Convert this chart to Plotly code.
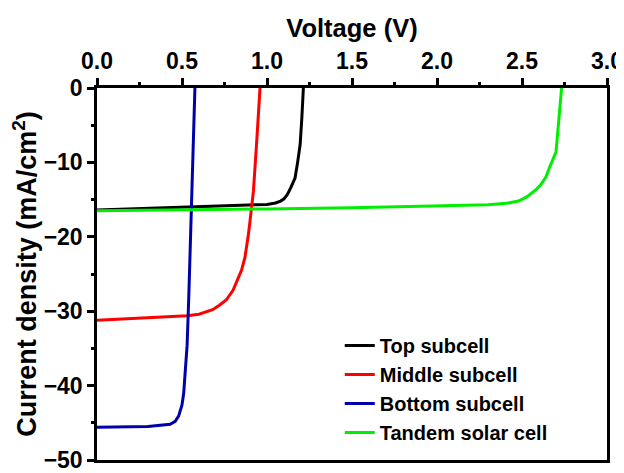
import plotly.graph_objects as go

# Top subcell (black)
top_v = [0.0, 0.3, 0.6, 0.9, 1.0, 1.05, 1.08, 1.10, 1.12, 1.14, 1.165, 1.18, 1.195, 1.205, 1.214]
top_j = [-16.4, -16.2, -16.0, -15.8, -15.65, -15.45, -15.2, -14.9, -14.3, -13.4, -12.1, -10.0, -7.6, -4.0, 0.0]

# Middle subcell (red)
mid_v = [0.0, 0.2, 0.4, 0.53, 0.6, 0.68, 0.72, 0.76, 0.80, 0.83, 0.85, 0.87, 0.88, 0.89, 0.90, 0.91, 0.92, 0.94, 0.959]
mid_j = [-31.2, -31.0, -30.8, -30.6, -30.4, -29.8, -29.2, -28.5, -27.2, -25.7, -24.5, -22.8, -21.5, -19.8, -17.9, -16.1, -13.9, -7.0, 0.0]

# Bottom subcell (blue)
bot_v = [0.0, 0.3, 0.43, 0.46, 0.48, 0.50, 0.51, 0.52, 0.53, 0.54, 0.55, 0.557, 0.566, 0.576]
bot_j = [-45.6, -45.5, -45.2, -44.8, -44.1, -42.6, -41.0, -38.2, -34.6, -28.0, -20.0, -13.5, -7.0, 0.0]

# Tandem solar cell (green)
tan_v = [0.0, 0.5, 1.0, 1.5, 2.0, 2.3, 2.41, 2.48, 2.53, 2.58, 2.61, 2.64, 2.66, 2.68, 2.70, 2.71, 2.72, 2.733]
tan_j = [-16.5, -16.4, -16.25, -16.1, -15.9, -15.7, -15.5, -15.2, -14.6, -13.7, -13.0, -12.0, -10.8, -9.8, -8.6, -6.0, -3.5, 0.0]

series = [
    ("Top subcell", top_v, top_j, "#000000"),
    ("Middle subcell", mid_v, mid_j, "#ff0000"),
    ("Bottom subcell", bot_v, bot_j, "#0000aa"),
    ("Tandem solar cell", tan_v, tan_j, "#00ee00"),
]

x_ticks = [0.0, 0.5, 1.0, 1.5, 2.0, 2.5, 3.0]
y_ticks = [0, -10, -20, -30, -40, -50]

FONT = "Liberation Sans, Arial, sans-serif"

fig = go.Figure()
for name, v, j, c in series:
    fig.add_trace(go.Scatter(x=v, y=j, mode="lines", name=name,
                             line=dict(color=c, width=3)))

axis_common = dict(
    showline=True, linecolor="black", linewidth=2.5, mirror=True,
    ticks="outside", ticklen=7, tickwidth=2.5, tickcolor="black",
    showgrid=False, zeroline=False, automargin=False,
    ticklabeloverflow="allow",
    tickfont=dict(family=FONT, size=23, color="black", weight="bold"),
)

fig.update_xaxes(
    **axis_common, side="top", range=[0, 3], tickvals=x_ticks,
    ticktext=[f"{t:.1f}" for t in x_ticks],
    minor=dict(ticks="outside", ticklen=3.5, tickwidth=2.5, tickcolor="black", dtick=0.25, showgrid=False),
    title=dict(text="Voltage (V)", font=dict(family=FONT, size=25.5, color="black", weight="bold"), standoff=4),
)
fig.update_yaxes(
    **axis_common, range=[-50, 0], tickvals=y_ticks,
    ticktext=["0" if t == 0 else f"\u2212{abs(t)}" for t in y_ticks],
    minor=dict(ticks="outside", ticklen=3.5, tickwidth=2.5, tickcolor="black", dtick=5, showgrid=False),
    title=dict(text="Current density (mA/cm<sup>2</sup>)", font=dict(family=FONT, size=27, color="black", weight="bold"), standoff=5),
)

# page body has an 8px margin, so the figure is offset by (8, 8) in the window
fig.update_layout(
    width=624, height=473,
    margin=dict(l=89, r=25, t=80, b=21),
    paper_bgcolor="white", plot_bgcolor="white",
    font=dict(family=FONT, color="black", weight="bold"),
    showlegend=True,
    legend=dict(x=0.476, y=0.36, xanchor="left", yanchor="top",
                bgcolor="rgba(0,0,0,0)", borderwidth=0,
                font=dict(family=FONT, size=20, color="black", weight="bold"),
                tracegroupgap=0, traceorder="normal"),
)

fig.write_html("out.html")
